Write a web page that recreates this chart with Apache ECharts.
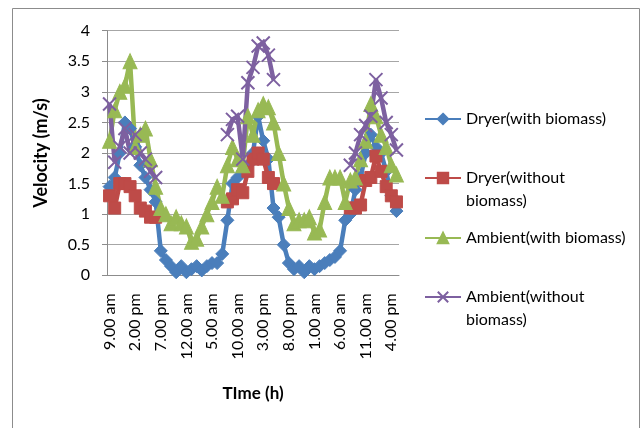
<!DOCTYPE html>
<html>
<head>
<meta charset="utf-8">
<script src="https://cdn.jsdelivr.net/npm/echarts@6/dist/echarts.min.js"></script>
<style>
html,body{margin:0;padding:0;background:#fff;}
#chart{width:644px;height:428px;}
</style>
</head>
<body>
<div id="chart"></div>
<script>
const hours = ['9.00 am','10.00 am','11.00 am','12.00 pm','1.00 pm','2.00 pm','3.00 pm','4.00 pm','5.00 pm','6.00 pm','7.00 pm','8.00 pm','9.00 pm','10.00 pm','11.00 pm',
'12.00 am','1.00 am','2.00 am','3.00 am','4.00 am','5.00 am','6.00 am','7.00 am','8.00 am','9.00 am','10.00 am','11.00 am','12.00 pm','1.00 pm','2.00 pm','3.00 pm','4.00 pm','5.00 pm','6.00 pm','7.00 pm','8.00 pm','9.00 pm','10.00 pm','11.00 pm',
'12.00 am','1.00 am','2.00 am','3.00 am','4.00 am','5.00 am','6.00 am','7.00 am','8.00 am','9.00 am','10.00 am','11.00 am','12.00 pm','1.00 pm','2.00 pm','3.00 pm','4.00 pm','5.00 pm'];

const dryerWith = [1.45,1.6,2.0,2.5,2.4,2.1,1.8,1.6,1.4,1.2,0.4,0.25,0.15,0.05,0.15,0.05,0.1,0.15,0.08,0.15,0.2,0.2,0.35,0.9,1.5,1.6,1.7,1.8,2.0,2.6,2.2,1.9,1.1,0.95,0.5,0.2,0.1,0.15,0.05,0.15,0.1,0.15,0.2,0.25,0.3,0.4,0.9,1.0,1.4,1.6,2.0,2.3,2.1,2.0,1.7,1.3,1.05];

const dryerWithout = [1.3,1.1,1.5,1.5,1.45,1.3,1.1,1.05,0.95,0.95,null,null,null,null,null,null,null,null,null,null,null,null,null,1.2,1.25,1.4,1.35,1.7,1.9,2.0,1.9,1.6,1.5,null,null,null,null,null,null,null,null,null,null,null,null,null,null,1.1,1.1,1.15,1.55,1.6,1.95,1.7,1.45,1.3,1.2];

const ambientWith = [2.2,2.7,3.0,3.1,3.5,2.1,2.3,2.4,1.9,1.45,1.1,1.0,0.85,0.95,0.85,0.8,0.55,0.6,0.8,1.0,1.2,1.45,1.3,1.8,2.1,1.9,1.8,2.6,2.3,2.7,2.8,2.75,2.5,2.0,1.5,1.1,0.85,0.9,0.9,0.95,0.7,0.75,1.2,1.6,1.6,1.6,1.2,1.55,1.6,1.9,2.2,2.8,2.6,2.3,2.1,1.8,1.65];

const ambientWithout = [2.8,1.85,2.1,2.4,2.0,2.3,2.0,1.9,1.7,1.6,null,null,null,null,null,null,null,null,null,null,null,null,null,2.3,2.55,2.6,1.9,3.15,3.4,3.75,3.8,3.6,3.2,null,null,null,null,null,null,null,null,null,null,null,null,null,null,1.8,2.0,2.3,2.45,2.6,3.2,2.9,2.5,2.3,2.05];

const yTicks = ['0','0.5','1','1.5','2','2.5','3','3.5','4'];

const FONT = 'Lato';
const xPath = 'path://M0,0 L10,10 M10,0 L0,10';

const chart = echarts.init(document.getElementById('chart'), null, {renderer:'canvas'});

function mkLegend(name, top, label){
  return {
    show: true,
    orient: 'vertical',
    left: 424,
    top: top,
    padding: 0,
    itemWidth: 36,
    itemHeight: 13,
    data: [name],
    formatter: function(){ return label; },
    textStyle: {fontFamily: FONT, fontSize: 16, color: '#000', lineHeight: 23}
  };
}

const option = {
  animation: false,
  backgroundColor: '#fff',
  graphic: [{
    type: 'rect',
    shape: {x: 12.5, y: 8.5, width: 627, height: 430},
    style: {fill: 'none', stroke: '#8c8c8c', lineWidth: 1},
    silent: true
  }],
  legend: [
    mkLegend('Dryer(with biomass)', 107.5, 'Dryer(with biomass)'),
    mkLegend('Dryer(without biomass)', 143.5, '\nDryer(without\nbiomass)'),
    mkLegend('Ambient(with biomass)', 226.5, 'Ambient(with biomass)'),
    mkLegend('Ambient(without biomass)', 262.5, '\nAmbient(without\nbiomass)')
  ],
  grid: {left: 107, right: 245, top: 30.7, bottom: 152.7, containLabel: false},
  xAxis: {
    type: 'category',
    data: hours,
    boundaryGap: true,
    name: 'TIme (h)',
    nameLocation: 'middle',
    nameGap: 110,
    nameTextStyle: {fontFamily: FONT, fontSize: 17, fontWeight: 'bold', color: '#000'},
    axisLine: {show: true, lineStyle: {color: '#8c8c8c', width: 1}},
    axisTick: {show: false},
    axisLabel: {interval: 4, rotate: 90, margin: 18, fontFamily: FONT, fontSize: 16, color: '#000'},
    splitLine: {show: false}
  },
  yAxis: {
    type: 'value',
    min: 0, max: 4, interval: 0.5,
    name: 'Velocity (m/s)',
    nameLocation: 'middle',
    nameGap: 57,
    nameTextStyle: {fontFamily: FONT, fontSize: 18, fontWeight: 'bold', color: '#000'},
    axisLine: {show: true, lineStyle: {color: '#8c8c8c', width: 1}},
    axisTick: {show: true, length: 5, inside: false, lineStyle: {color: '#8c8c8c'}},
    axisLabel: {margin: 17, fontFamily: FONT, fontSize: 16, color: '#000',
      formatter: function(v){ return yTicks[Math.round(v*2)]; }},
    splitLine: {show: true, lineStyle: {color: '#a6a6a6', width: 1}}
  },
  series: [
    {name: 'Dryer(with biomass)', type: 'line', data: dryerWith,
      symbol: 'diamond', symbolSize: 13, showAllSymbol: true,
      lineStyle: {color: '#4A7EBB', width: 4.5},
      itemStyle: {color: '#4A7EBB', borderColor: '#4A7EBB', borderWidth: 1}},
    {name: 'Dryer(without biomass)', type: 'line', data: dryerWithout,
      symbol: 'rect', symbolSize: 12, showAllSymbol: true,
      lineStyle: {color: '#BE4B48', width: 4.5},
      itemStyle: {color: '#BE4B48', borderColor: '#BE4B48', borderWidth: 1}},
    {name: 'Ambient(with biomass)', type: 'line', data: ambientWith,
      symbol: 'triangle', symbolSize: [14, 15], showAllSymbol: true,
      lineStyle: {color: '#98B954', width: 4.5},
      itemStyle: {color: '#98B954', borderColor: '#98B954', borderWidth: 1}},
    {name: 'Ambient(without biomass)', type: 'line', data: ambientWithout,
      symbol: xPath, symbolSize: 13, showAllSymbol: true,
      lineStyle: {color: '#7D60A0', width: 4.5},
      itemStyle: {color: 'rgba(0,0,0,0)', borderColor: '#7D60A0', borderWidth: 2}}
  ]
};
chart.setOption(option);
</script>
</body>
</html>
